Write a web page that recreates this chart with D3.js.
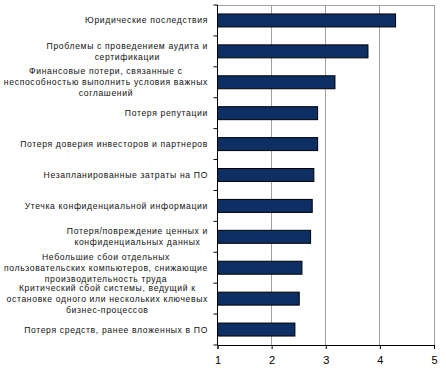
<!DOCTYPE html>
<html><head><meta charset="utf-8">
<script src="https://cdn.jsdelivr.net/npm/d3@7"></script>
<style>body{margin:0;background:#fff}svg{display:block}</style>
</head><body>
<svg id="c" width="446" height="378"></svg>
<script>
const categories = [
  ["Юридические  последствия"],
  ["Проблемы с проведением аудита и", "сертификации"],
  ["Финансовые потери, связанные с", "неспособностью выполнить условия важных", "соглашений"],
  ["Потеря репутации"],
  ["Потеря доверия инвесторов и партнеров"],
  ["Незапланированные затраты на ПО"],
  ["Утечка конфиденциальной информации"],
  ["Потеря/повреждение ценных и", "конфиденциальных данных"],
  ["Небольшие сбои отдельных", "пользовательских компьютеров, снижающие", "производительность труда"],
  ["Критический сбой системы, ведущий к", "остановке одного или нескольких ключевых", "бизнес-процессов"],
  ["Потеря средств, ранее вложенных в ПО"]
];
const values = [4.29, 3.78, 3.17, 2.85, 2.85, 2.78, 2.75, 2.72, 2.56, 2.51, 2.43];
const xTicks = [1, 2, 3, 4, 5];

(function () {
const svg = d3.select("#c");
const mL = 217.5, mR = 434, mT = 5, mB = 345;
const x = d3.scaleLinear().domain([1, 5]).range([mL, mR]);
const y = d3.scaleBand().domain(d3.range(categories.length)).range([mT, mB]).paddingInner(0.58).paddingOuter(0.29);
const yb = d3.scaleBand().domain(d3.range(categories.length)).range([mT, mB]);

svg.append("g").selectAll("line").data(xTicks.slice(1)).join("line")
  .attr("x1", d => x(d)).attr("x2", d => x(d)).attr("y1", mT).attr("y2", mB)
  .attr("stroke", "#a0a0a0").attr("stroke-width", 1).attr("shape-rendering", "crispEdges");
svg.append("line").attr("x1", mL).attr("x2", mR).attr("y1", mT + 0.5).attr("y2", mT + 0.5)
  .attr("stroke", "#a0a0a0");

svg.append("g").selectAll("rect").data(values).join("rect")
  .attr("x", x(1)).attr("y", (d, i) => y(i))
  .attr("width", d => x(d) - x(1)).attr("height", y.bandwidth())
  .attr("fill", "#0d2f63").attr("stroke", "#000").attr("stroke-width", 1);

const xa = svg.append("g").attr("transform", `translate(0,${mB})`)
  .call(d3.axisBottom(x).tickValues(xTicks).tickSize(4).tickFormat(d3.format("d")));
xa.select(".domain").attr("stroke", "#000");
xa.selectAll(".tick line").attr("stroke", "#000");
xa.selectAll("text").attr("font-family", "Liberation Sans, Arial, sans-serif").attr("font-size", 11)
  .attr("fill", "#000").attr("dy", "1.1em");

svg.append("line").attr("x1", mL).attr("x2", mL).attr("y1", mT).attr("y2", mB).attr("stroke", "#000");
svg.append("g").selectAll("line").data(d3.range(categories.length + 1)).join("line")
  .attr("x1", mL - 4).attr("x2", mL)
  .attr("y1", i => i < categories.length ? yb(i) : mB)
  .attr("y2", i => i < categories.length ? yb(i) : mB)
  .attr("stroke", "#000");

const lh = 11, rEdge = 208;
const lab = svg.append("g").attr("font-family", "Liberation Sans, Arial, sans-serif")
  .attr("font-size", 8.6).attr("fill", "#111").attr("letter-spacing", "0.65px");
categories.forEach((lines, i) => {
  const cy = yb(i) + yb.bandwidth() / 2;
  const texts = lines.map((t, j) => lab.append("text")
    .attr("y", cy + (j - (lines.length - 1) / 2) * lh)
    .attr("dy", "0.35em").attr("text-anchor", "middle").text(t));
  const w = d3.max(texts, s => s.node().getComputedTextLength());
  texts.forEach(s => s.attr("x", rEdge - w / 2));
});
})();
</script>
</body></html>
